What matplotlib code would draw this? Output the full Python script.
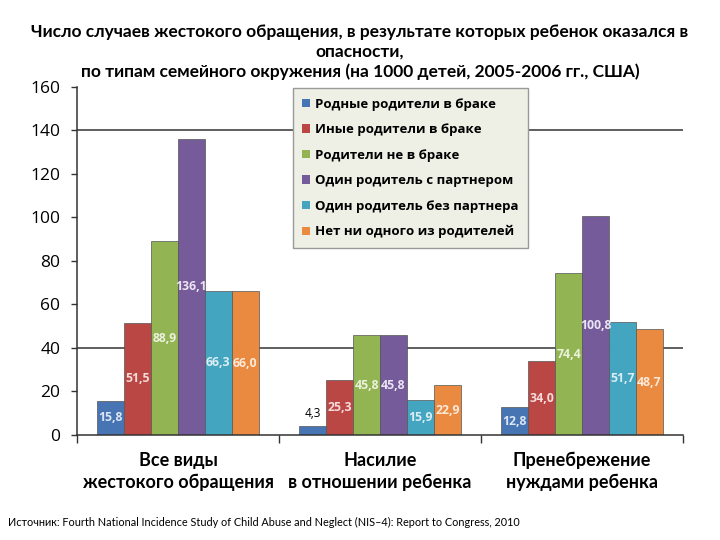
import numpy as np
import matplotlib.pyplot as plt

plt.rcParams['font.family'] = ['Open Sans', 'DejaVu Sans']
narrow = ['Lato', 'DejaVu Sans']

categories = ['Все виды\nжестокого обращения', 'Насилие\nв отношении ребенка',
              'Пренебрежение\nнуждами ребенка']
series_names = ['Родные родители в браке', 'Иные родители в браке', 'Родители не в браке',
                'Один родитель с партнером', 'Один родитель без партнера',
                'Нет ни одного из родителей']
values = [
    [15.8, 4.3, 12.8],
    [51.5, 25.3, 34.0],
    [88.9, 45.8, 74.4],
    [136.1, 45.8, 100.8],
    [66.3, 15.9, 51.7],
    [66.0, 22.9, 48.7],
]
colors = ['#4775b3', '#bb4744', '#93b452', '#765b9a', '#44a5c0', '#ea8a40']
label_colors = ['#dce6f2', '#f6dcdb', '#ebf1de', '#ebe4f2', '#dbeef4', '#fde9d9']
yticks = [0, 20, 40, 60, 80, 100, 120, 140, 160]

fig = plt.figure(figsize=(7.2, 5.4), dpi=100)
ax = fig.add_axes([0.107, 0.1944, 0.8416, 0.6452])

x = np.arange(len(categories))
n = len(series_names)
width = 0.8 / n

ax.axhline(40, color='#333333', lw=1.1, zorder=0.5)
ax.axhline(140, color='#333333', lw=1.1, zorder=0.5)

for i in range(n):
    pos = x - 0.4 + width * (i + 0.5)
    bars = ax.bar(pos, values[i], width, color=colors[i], edgecolor='#555555',
                  linewidth=0.5, label=series_names[i], zorder=2)
    for b, v in zip(bars, values[i]):
        txt = ('%.1f' % v).replace('.', ',')
        if v < 8:
            ax.text(b.get_x() + b.get_width() / 2, v + 2.5, txt, ha='center', va='bottom',
                    fontsize=8.5, color='black', zorder=3)
        else:
            ax.text(b.get_x() + b.get_width() / 2, v / 2, txt, ha='center', va='center',
                    fontsize=8.8, fontweight='bold', color=label_colors[i], zorder=3)

ax.set_xlim(-0.5, len(categories) - 0.5)
ax.set_ylim(0, 160)
ax.set_yticks(yticks)
ax.tick_params(axis='y', labelsize=12.5, length=4, width=1, color='#333333', pad=8)
ax.set_xticks(x)
ax.set_xticklabels(categories, fontsize=13, fontweight='bold', family=narrow,
                   linespacing=1.35)
ax.set_xticks(np.arange(-0.5, len(categories)), minor=True)
ax.tick_params(axis='x', which='major', length=0, pad=12)
ax.tick_params(axis='x', which='minor', length=6, width=1, color='#333333')
for s in ['top', 'right']:
    ax.spines[s].set_visible(False)
for s in ['left', 'bottom']:
    ax.spines[s].set_color('#333333')
    ax.spines[s].set_linewidth(1.1)

leg = ax.legend(loc='upper left', bbox_to_anchor=(0.356, 0.995), borderaxespad=0,
                prop={'weight': 'bold', 'size': 9.5}, frameon=True, fancybox=False,
                handlelength=0.6, handleheight=0.6, handletextpad=0.4,
                labelspacing=0.95, borderpad=0.7, framealpha=1)
leg.get_frame().set_facecolor('#eef0e6')
leg.get_frame().set_edgecolor('#999999')
leg.set_zorder(5)
for h in leg.legend_handles:
    h.set_linewidth(0)

fig.text(0.5, 0.904, 'Число случаев жестокого обращения, в результате которых ребенок оказался в\n'
         'опасности,\nпо типам семейного окружения (на 1000 детей, 2005-2006 гг., США)',
         ha='center', va='center', fontsize=12.5, fontweight='bold', family=narrow,
         linespacing=1.3)

fig.text(0.011, 0.033, 'Источник: Fourth National Incidence Study of Child Abuse and Neglect '
         '(NIS\u20134): Report to Congress, 2010', ha='left', va='center', fontsize=7.8,
         family=narrow)

plt.savefig('out.png', dpi=100)
